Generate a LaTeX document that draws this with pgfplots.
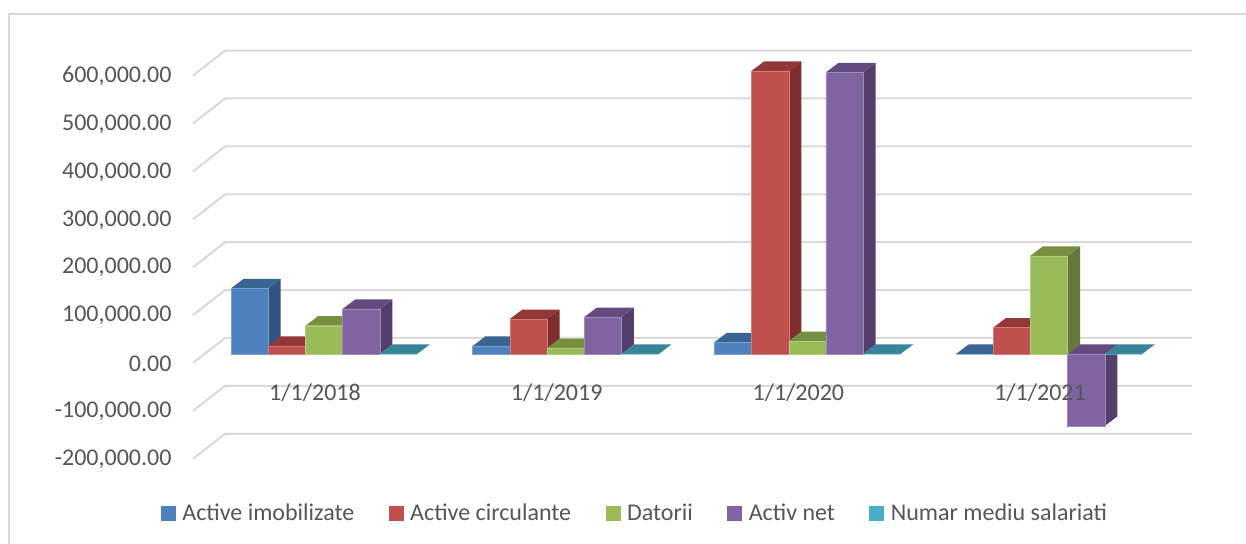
\documentclass[border=0pt]{standalone}
\usepackage{fontspec}
\setmainfont{Carlito}
\usepackage{pgfplots}
\usepackage{pgfplotstable}
\pgfplotsset{compat=1.18}

\definecolor{gridc}{HTML}{D9D9D9}
\definecolor{textc}{HTML}{565656}
\definecolor{blueF}{HTML}{4F81BD}
\definecolor{blueS}{HTML}{315480}
\definecolor{blueT}{HTML}{3A6591}
\definecolor{redF}{HTML}{C0504D}
\definecolor{redS}{HTML}{7E2E2C}
\definecolor{redT}{HTML}{923938}
\definecolor{greenF}{HTML}{9BBB59}
\definecolor{greenS}{HTML}{66793A}
\definecolor{greenT}{HTML}{76903F}
\definecolor{purpleF}{HTML}{8064A2}
\definecolor{purpleS}{HTML}{543E6B}
\definecolor{purpleT}{HTML}{634B80}
\definecolor{tealF}{HTML}{4BACC6}
\definecolor{tealS}{HTML}{2E7286}
\definecolor{tealT}{HTML}{38859A}

% corners of the faces and of the wall lines
\pgfplotstableread{
b hi
0 1
1 1
1 0
0 0
}\sidecorners
\pgfplotstableread{
a b
0 0
0 1
1 1
1 0
}\topcorners
\pgfplotstableread{
x off
-0.54206 -18800
-0.40965 33400
3.59168 33400
}\wallcorners

% 1 group = 241.67pt, bar = 37.2pt, depth = 12.5pt across and 9.5pt up (19833 in y units)
\newcommand{\barw}{0.15393}
\newcommand{\depx}{0.05172}
\newcommand{\depy}{19833}

% #1 group, #2 series, #3 value, #4 side colour, #5 top colour
\newcommand{\barfaces}[5]{%
  \addplot[fill=#4,draw=none,forget plot] table[
    x expr={#1+(#2-1.5)*\barw+\thisrow{b}*\depx},
    y expr={\thisrow{hi}*max(#3,0)+(1-\thisrow{hi})*min(#3,0)+\thisrow{b}*\depy}] {\sidecorners};
  \addplot[fill=#5,draw=none,forget plot] table[
    x expr={#1+(#2-2.5+\thisrow{a})*\barw+\thisrow{b}*\depx},
    y expr={max(#3,0)+\thisrow{b}*\depy}] {\topcorners};
}
% #1 series index, #2 base colour name, #3-#6 values, #7 legend
\newcommand{\series}[7]{%
  \barfaces{0}{#1}{#3}{#2S}{#2T}
  \barfaces{1}{#1}{#4}{#2S}{#2T}
  \barfaces{2}{#1}{#5}{#2S}{#2T}
  \barfaces{3}{#1}{#6}{#2S}{#2T}
  \addplot[ybar,bar width=37.2pt,bar shift={(#1-2)*37.2pt},fill=#2F,
    draw=#2F!75!white,line width=0.4pt,
    legend image code/.code={\fill[#2F] (0pt,-7pt) rectangle (14pt,7pt);}]
    coordinates {(0,#3) (1,#4) (2,#5) (3,#6)};
  \addlegendentry{#7}
}
% #1 value of a grid line
\newcommand{\gridline}[1]{%
  \addplot[gridc,line width=2pt,line join=round,forget plot] table[
    x=x, y expr={#1+\thisrow{off}}] {\wallcorners};
}

\begin{document}
\begin{tikzpicture}[x=1pt,y=1pt]
\useasboundingbox (0,0) rectangle (1246,543);
\fill[white] (0,0) rectangle (1246,543);
\draw[gridc,line width=2pt] (8.5,-5) -- (8.5,528.5) -- (1251,528.5);
\begin{axis}[
    at={(193pt,85pt)}, anchor=south west,
    scale only axis, width=999pt, height=408pt,
    clip=false,
    axis on top,
    xmin=-0.54206, xmax=3.59168,
    ymin=-217119, ymax=634656,
    axis line style={draw=none},
    tick style={draw=none},
    xtick={0,1,2,3},
    xticklabels={1/1/2018,1/1/2019,1/1/2020,1/1/2021},
    ytick={-200000,-100000,0,100000,200000,300000,400000,500000,600000},
    scaled y ticks=false,
    /pgf/number format/fixed,
    /pgf/number format/fixed zerofill,
    /pgf/number format/precision=2,
    /pgf/number format/1000 sep={,},
    /pgf/number format/assume math mode=true,
    ticklabel style={font=\fontsize{24pt}{26pt}\selectfont,text=textc},
    yticklabel style={yshift=-9.5pt,xshift=-18pt},
    xticklabel style={xshift=-9pt,yshift=78pt},
    legend style={at={(0.4425,-0.1348)},anchor=center,draw=none,fill=none,
      font=\fontsize{24pt}{26pt}\selectfont,text=textc,legend columns=5,
      /tikz/every even column/.append style={column sep=32.5pt},
      /tikz/every odd column/.append style={column sep=5pt}},
  ]
  \gridline{600000}
  \gridline{500000}
  \gridline{400000}
  \gridline{300000}
  \gridline{200000}
  \gridline{100000}
  \gridline{0}
  \gridline{-100000}
  \gridline{-200000}
  \series{0}{blue}{137000}{16700}{24400}{0}{Active imobilizate}
  \series{1}{red}{16700}{73000}{591000}{55000}{Active circulante}
  \series{2}{green}{59000}{12500}{27000}{205000}{Datorii}
  \series{3}{purple}{94000}{77000}{588000}{-150000}{Activ net}
  \series{4}{teal}{0}{0}{0}{0}{Numar mediu salariati}
\end{axis}
\end{tikzpicture}
\end{document}
